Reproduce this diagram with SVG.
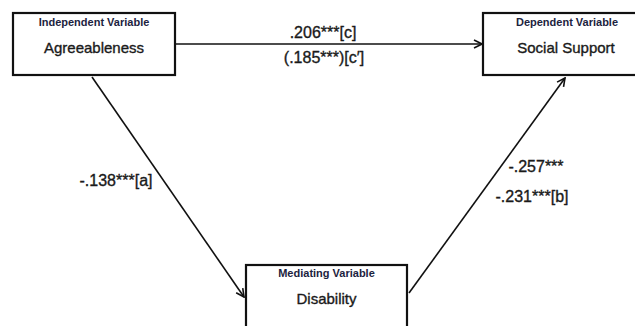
<svg xmlns="http://www.w3.org/2000/svg" width="635" height="326" viewBox="0 0 635 326">
<defs>
<style>
.box{fill:#fff;stroke:#111;stroke-width:2.2}
.lab{font-family:"Liberation Sans",Arial,sans-serif;font-size:11px;font-weight:bold;fill:#1c2340;text-anchor:middle}
.name{font-family:"Liberation Sans",Arial,sans-serif;font-size:15px;fill:#1a1a1a;stroke:#1a1a1a;stroke-width:0.35;text-anchor:middle}
.coef{font-family:"Liberation Sans",Arial,sans-serif;font-size:16px;fill:#1a1a1a;stroke:#1a1a1a;stroke-width:0.35;text-anchor:middle}
.edge{fill:none;stroke:#111;stroke-width:1.6;marker-end:url(#arr)}
</style>
<marker id="arr" viewBox="0 0 10 10" refX="9" refY="5" markerWidth="10" markerHeight="10" markerUnits="userSpaceOnUse" orient="auto">
<polyline points="1,1 9,5 1,9" fill="none" stroke="#111" stroke-width="1.6"/>
</marker>
</defs>
<rect width="635" height="326" fill="#fff"/>
<g id="connectors">
<line class="edge" x1="175" y1="44" x2="482" y2="44"/>
<line class="edge" x1="92" y1="77" x2="244" y2="297"/>
<line class="edge" x1="409" y1="293" x2="565" y2="78"/>
<text class="coef" x="323" y="38">.206***[c]</text>
<text class="coef" x="324" y="63">(.185***)[c′]</text>
<text class="coef" x="116" y="186">-.138***[a]</text>
<text class="coef" x="536" y="172">-.257***</text>
<text class="coef" x="532" y="202">-.231***[b]</text>
</g>
<g id="agreeableness">
<rect class="box" x="13" y="13" width="162" height="62"/>
<text class="lab" x="94" y="26">Independent Variable</text>
<text class="name" x="94" y="53">Agreeableness</text>
</g>
<g id="social-support">
<rect class="box" x="483" y="13" width="165" height="62"/>
<text class="lab" x="567" y="26">Dependent Variable</text>
<text class="name" x="566" y="53">Social Support</text>
</g>
<g id="disability">
<rect class="box" x="246" y="265" width="161" height="80"/>
<text class="lab" x="326.5" y="277">Mediating Variable</text>
<text class="name" x="326.5" y="304">Disability</text>
</g>
</svg>
